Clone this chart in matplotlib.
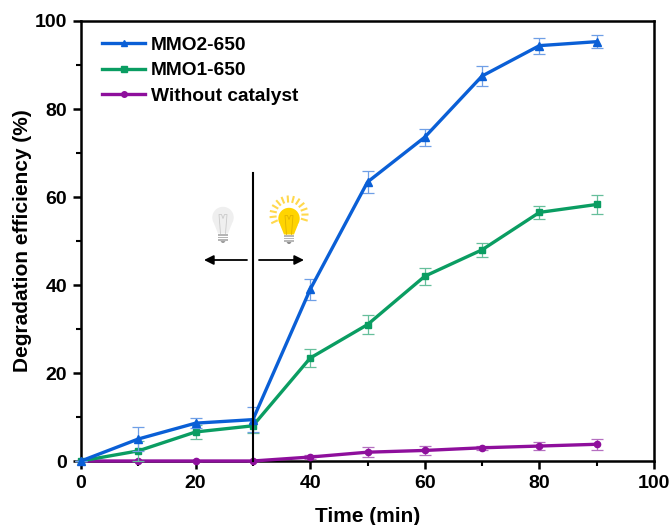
import numpy as np
import matplotlib
matplotlib.use("Agg")
import matplotlib.pyplot as plt
from matplotlib.lines import Line2D
from matplotlib.patches import Circle, Polygon, Rectangle

plt.rcParams['font.family'] = ['Liberation Sans', 'DejaVu Sans']

time = [0, 10, 20, 30, 40, 50, 60, 70, 80, 90]
mmo2 = [0, 5.0, 8.6, 9.4, 39.0, 63.4, 73.6, 87.5, 94.4, 95.3]
mmo2_err = [0, 2.8, 1.2, 2.8, 2.3, 2.6, 1.9, 2.3, 1.8, 1.5]
mmo1 = [0, 2.3, 6.6, 8.0, 23.4, 31.0, 42.0, 48.0, 56.5, 58.3]
mmo1_err = [0, 2.2, 1.5, 1.6, 2.0, 2.2, 1.9, 1.6, 1.5, 2.2]
none = [0, 0.0, 0.0, 0.0, 0.9, 2.0, 2.4, 3.0, 3.4, 3.8]
none_err = [0, 0.0, 0.0, 0.0, 0.5, 1.1, 1.0, 0.5, 0.9, 1.2]
series_names = ['MMO2-650', 'MMO1-650', 'Without catalyst']
xticks = [0, 20, 40, 60, 80, 100]
yticks = [0, 20, 40, 60, 80, 100]

W, H = 671, 525
fig = plt.figure(figsize=(W / 100, H / 100), dpi=100)
ax = fig.add_axes([81 / W, 1 - 461 / H, (654 - 81) / W, (461 - 21) / H])

colors = ['#0a5fd6', '#0a9d62', '#8e0f9c']
err_colors = ['#6f9fe6', '#66bf9b', '#b56fc0']
markers = ['^', 's', 'o']
sizes = [5.5, 5, 4.5]
data = [(mmo2, mmo2_err), (mmo1, mmo1_err), (none, none_err)]

for i in [2, 1, 0]:
    y, e = data[i]
    ax.errorbar(time, y, yerr=e, color=colors[i], lw=2.4, marker=markers[i], ms=sizes[i],
                elinewidth=0.9, capsize=4.5, capthick=0.9, ecolor=err_colors[i],
                clip_on=False, zorder=3 + (2 - i))

ax.set_xlim(0, 100)
ax.set_ylim(0, 100)
ax.set_xticks(xticks)
ax.set_yticks(yticks)
ax.set_xticks(np.arange(10, 100, 20), minor=True)
ax.set_yticks(np.arange(10, 100, 20), minor=True)
ax.tick_params(which='major', direction='out', length=6, width=1.8, labelsize=14, pad=4)
ax.tick_params(which='minor', direction='out', length=3.5, width=1.5)
for lab in ax.get_xticklabels() + ax.get_yticklabels():
    lab.set_fontweight('bold')
for s in ax.spines.values():
    s.set_linewidth(1.8)
ax.set_xlabel('Time (min)', fontsize=15, fontweight='bold', labelpad=11)
ax.set_ylabel('Degradation efficiency (%)', fontsize=15, fontweight='bold', labelpad=2)

handles = [Line2D([], [], color=colors[i], lw=2.4, marker=markers[i], ms=sizes[i] - 0.5) for i in range(3)]
ax.legend(handles, series_names, loc='upper left', bbox_to_anchor=(0.0366, 0.965),
          frameon=False, prop={'size': 13.8, 'weight': 'bold'}, handlelength=2.26,
          handletextpad=0.3, labelspacing=0.42, borderaxespad=0, borderpad=0)

# Light-on / light-off annotation, placed in pixel space
ov = fig.add_axes([0, 0, 1, 1], facecolor='none', zorder=10)
ov.set_xlim(0, W)
ov.set_ylim(H, 0)
ov.axis('off')

ov.plot([253, 253], [173, 461], color='black', lw=1.5, zorder=2)
ov.annotate('', xy=(204, 260), xytext=(247, 260),
            arrowprops=dict(arrowstyle='-|>', color='black', lw=1.3, mutation_scale=14, shrinkA=0, shrinkB=0))
ov.annotate('', xy=(304, 260), xytext=(259, 260),
            arrowprops=dict(arrowstyle='-|>', color='black', lw=1.3, mutation_scale=14, shrinkA=0, shrinkB=0))


def bulb(cx, cy, fill, neck, base, fil):
    ov.add_patch(Circle((cx, cy), 10.7, fc=fill, ec='none'))
    ov.add_patch(Polygon([(cx - 9, cy + 6), (cx + 9, cy + 6), (cx + 5, cy + 16), (cx - 5, cy + 16)],
                         fc=fill, ec='none'))
    for yy in [cy + 16.5, cy + 19, cy + 21.5]:
        ov.add_patch(Rectangle((cx - 5, yy), 10, 1.8, fc=neck, ec='none'))
    ov.add_patch(Polygon([(cx - 2.5, cy + 23.5), (cx + 2.5, cy + 23.5), (cx + 1, cy + 25.5), (cx - 1, cy + 25.5)],
                         fc=base, ec='none'))
    ov.plot([cx - 2.5, cx - 4, cx - 1.5, cx, cx + 1.5, cx + 4, cx + 2.5],
            [cy + 16, cy - 3, cy - 3, cy + 1, cy - 3, cy - 3, cy + 16], color=fil, lw=0.6)


bulb(223, 217.5, '#efefef', '#b5b5b5', '#a0a0a0', '#c9c9c9')
bulb(289, 218.5, '#ffd400', '#b8b8b8', '#8f8f8f', '#e0b300')
for ang in np.deg2rad(np.arange(-205, 30, 18.5)):
    r0, r1 = 13.5, 18.5
    ov.plot([289 + r0 * np.cos(ang), 289 + r1 * np.cos(ang)],
            [215 + r0 * np.sin(ang), 215 + r1 * np.sin(ang)],
            color='#ffd84d', lw=1.5)

fig.savefig('out.png', dpi=100)
